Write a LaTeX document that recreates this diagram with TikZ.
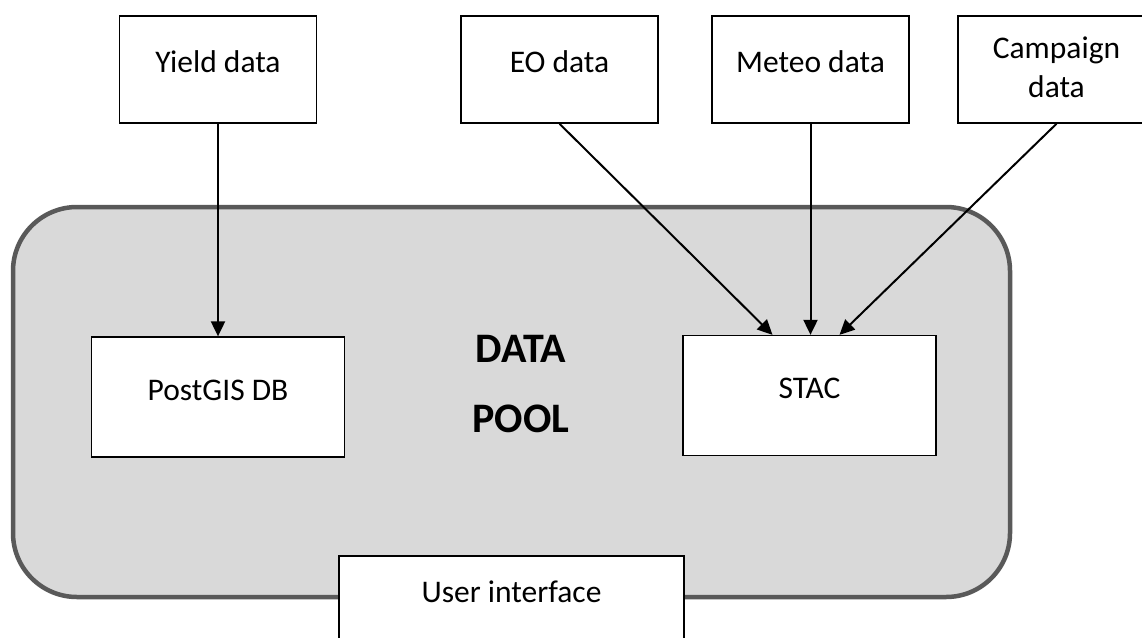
\documentclass[tikz,border=0pt]{standalone}
\usepackage{fontspec}
\setmainfont{Carlito}
\usetikzlibrary{arrows.meta,calc}
\definecolor{poolfill}{HTML}{D9D9D9}
\definecolor{pooldraw}{HTML}{595959}
\begin{document}
\begin{tikzpicture}[x=1pt,y=-1pt,
  srcbox/.style={draw=black,line width=1.5pt,fill=white,minimum width=197pt,minimum height=107pt,inner sep=0pt,
    font=\fontsize{31.5}{39}\selectfont,text height=22.5pt,text depth=17.5pt},
  twoline/.style={align=center,text height=60pt,text depth=5pt},
  inbox/.style={draw=black,line width=1.3pt,fill=white,minimum width=253pt,minimum height=120pt,inner sep=0pt,
    font=\fontsize{31.5}{39}\selectfont,text height=23pt,text depth=17pt},
  uibox/.style={draw=black,line width=1.5pt,fill=white,minimum width=345pt,minimum height=92pt,inner sep=0pt,
    font=\fontsize{31.5}{39}\selectfont,text height=20pt,text depth=20pt},
  poolbox/.style={draw=pooldraw,fill=poolfill,line width=4.5pt,rounded corners=64pt,minimum width=997pt,minimum height=390pt,inner sep=0pt},
  pooltext/.style={font=\fontsize{42}{50}\selectfont\bfseries,inner sep=0pt,anchor=base},
  arr/.style={line width=2pt,-{Triangle[length=15pt,width=14pt]}}
]
\useasboundingbox (0,0) rectangle (1142,637);
\clip (0,0) rectangle (1142,637);
\fill[white] (0,0) rectangle (1142,637);

\node[poolbox] (pool) at (511.5,402) {};
\node[pooltext] (dtext) at (521,362) {DATA};
\node[pooltext] (ptext) at (521,432) {POOL};

\node[srcbox] (yield) at (218,69.5) {Yield data};
\node[srcbox] (eo) at (559.5,69.5) {EO data};
\node[srcbox] (meteo) at (810.5,69.5) {Meteo data};
\node[srcbox,twoline] (camp) at (1056.5,69.5) {Campaign\\data};

\node[inbox] (pg) at (218,397) {PostGIS DB};
\node[inbox] (stac) at (809.5,395.5) {STAC};
\node[uibox] (ui) at (511.5,602) {User interface};

\draw[arr] (yield.south) -- (pg.north);
\draw[arr] (eo.south) -- ($(stac.north)+(-37,0)$);
\draw[arr] (meteo.south) -- (meteo.south |- stac.north);
\draw[arr] (camp.south) -- ($(stac.north)+(30,0)$);
\end{tikzpicture}
\end{document}
